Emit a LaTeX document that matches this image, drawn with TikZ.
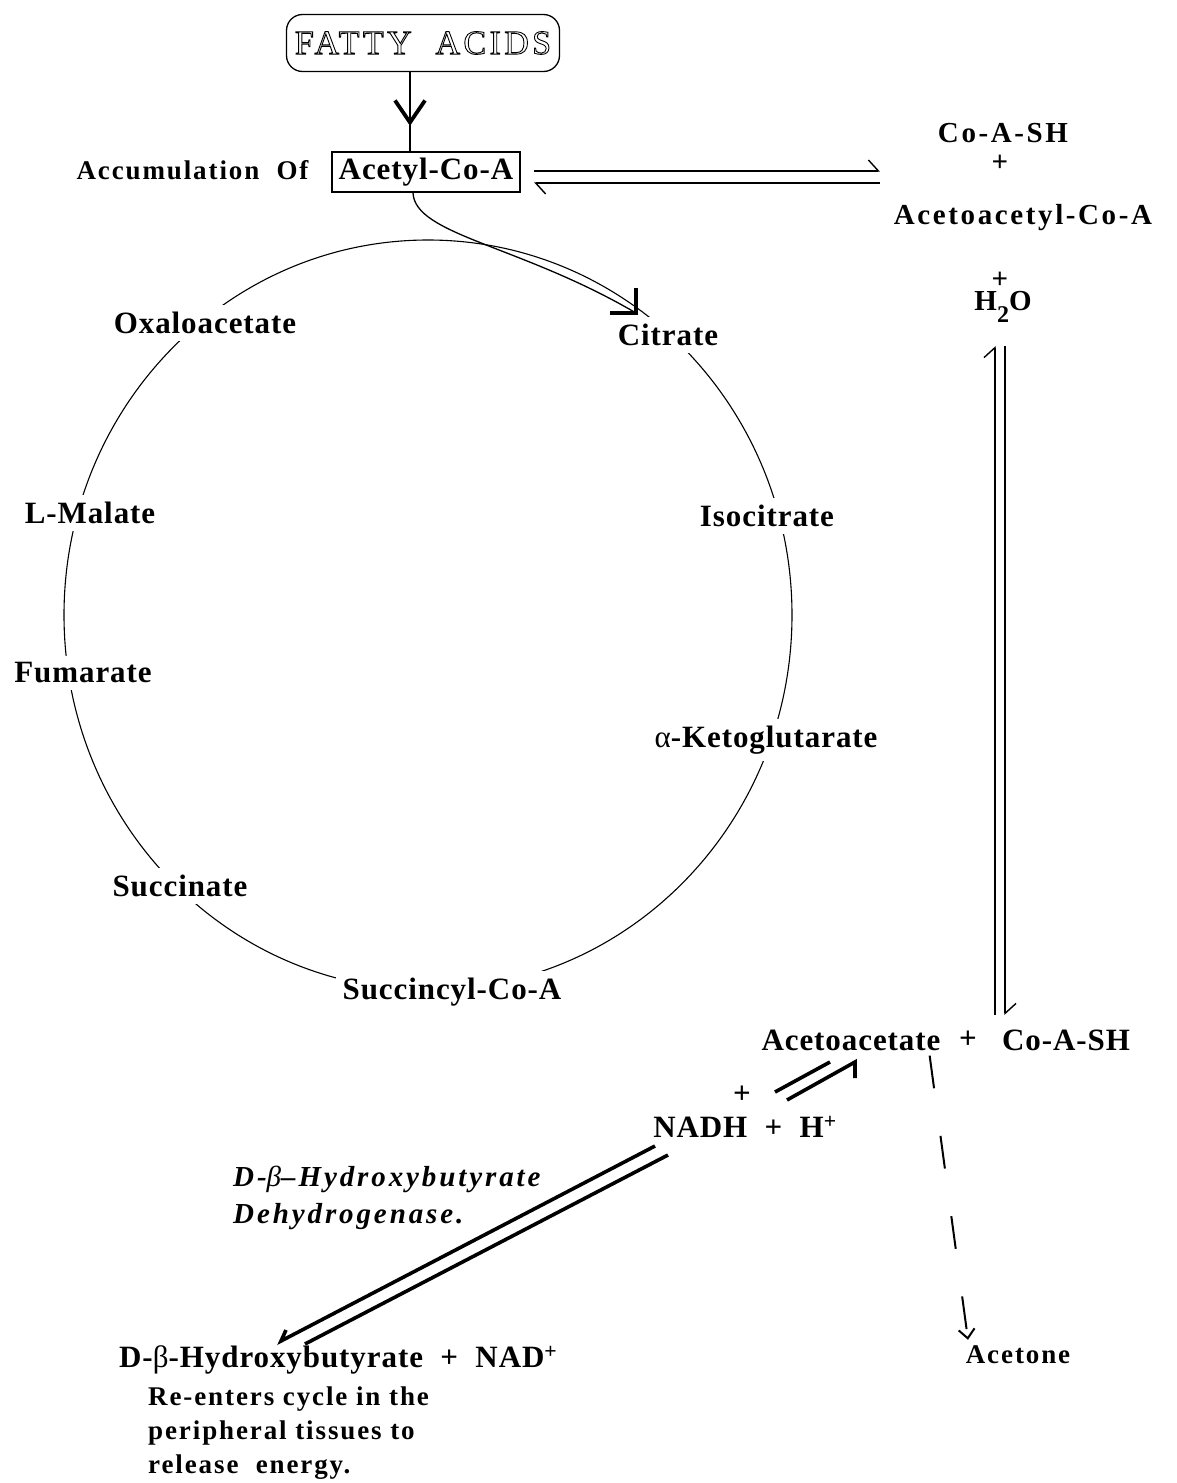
\documentclass[tikz,border=0pt]{standalone}
\usepackage{fontspec}
\setmainfont{Liberation Serif}
\usetikzlibrary{arrows.meta,decorations.markings}

\newcommand\cyclefont{\fontsize{31}{34}\selectfont\bfseries\addfontfeature{LetterSpace=3}}
\newcommand\sidefont{\fontsize{29}{34}\selectfont\bfseries\addfontfeature{LetterSpace=9}}
\newcommand\notefont{\fontsize{27}{34}\selectfont\bfseries\addfontfeature{LetterSpace=7}}
\newcommand\enzfont{\fontsize{29}{37}\selectfont\bfseries\itshape\addfontfeature{LetterSpace=10}}
\newcommand\outlined[1]{\special{pdf:literal direct 1 Tr 0.9 w}#1\special{pdf:literal direct 0 Tr}}

\tikzset{
  lbl/.style={font=\cyclefont, inner sep=1pt},
  onring/.style={lbl, fill=white, inner sep=7pt},
  side/.style={font=\sidefont, inner sep=0pt},
  note/.style={font=\notefont, inner sep=0pt},
  eqline/.style={line width=1.4pt},
  fatline/.style={line width=3.6pt},
  hbarb/.style={-{Straight Barb[harpoon,length=10pt,width=22pt]}},
}

\begin{document}
\begin{tikzpicture}[x=1pt,y=-1pt]
\useasboundingbox (0,0) rectangle (1177,1483);

% fatty acids -> acetyl-CoA
\node[draw, rounded corners=16pt, line width=1.3pt, minimum width=273pt, minimum height=57pt,
      font=\fontsize{34}{36}\selectfont\addfontfeature{LetterSpace=10}] (fatty) at (423,43) {\outlined{FATTY\ \ ACIDS}};
\node[draw, line width=1.6pt, lbl, inner xsep=7pt, inner ysep=6pt] (acetyl) at (426,172) {Acetyl-Co-A};
\node[font=\fontsize{27}{30}\selectfont\bfseries\addfontfeature{LetterSpace=7}, anchor=east] (accum) at (312,170) {Accumulation\ \ Of};
\coordinate (feed) at (410,0);
\draw[line width=1.3pt, postaction={decorate},
      decoration={markings, mark=at position 0.68 with {\arrow[line width=3.8pt]{Straight Barb[length=22pt,width=30pt]}}}]
  (fatty.south -| feed) -- (acetyl.north -| feed);

% thiolase equilibrium
\node[side] (coa1) at (1003,133) {Co-A-SH};
\node[side] (plus1) at (1000,163) {+};
\node[side] (acac) at (1023,218) {Acetoacetyl-Co-A};
\coordinate (eqR) at (880,171);
\draw[eqline, hbarb] ([xshift=13pt]acetyl.east |- eqR) -- (eqR);
\draw[eqline, hbarb] ([yshift=-12pt]eqR) -- ([shift={(13pt,-12pt)}]acetyl.east |- eqR);

% TCA cycle
\draw[line width=1.1pt] (428,615) ellipse [x radius=364, y radius=375];
\node[onring] (oxalo) at (205,323) {Oxaloacetate};
\node[onring] (citrate) at (668,335) {Citrate};
\node[onring] (malate) at (90,513) {L-Malate};
\node[onring] (isocit) at (767,516) {Isocitrate};
\node[onring] (fumar) at (83,673) {Fumarate};
\node[onring] (akg) at (766,740) {{\mdseries α}-Ketoglutarate};
\node[onring] (succ) at (180,886) {Succinate};
\node[onring] (succoa) at (452,992) {Succincyl-Co-A};
\coordinate (entry) at (636,313);
\draw[line width=1.3pt] (acetyl.south -| feed) ++(3,0) .. controls (415,235) and (520,245) .. (entry);
\draw[line width=3.5pt] (entry) ++(0,-25) -- (entry) -- ++(-26,0);

% water, acetoacetate
\node[side] (plus2) at (1000,280) {+};
\node[side] (water) at (1003,307) {H\raisebox{-12pt}{\fontsize{24}{24}\selectfont 2}O};
\coordinate (vtop) at (1000,346);
\coordinate (vbot) at (1000,1015);
\draw[eqline, hbarb] ([xshift=-5pt]vbot) -- ([xshift=-5pt]vtop);
\draw[eqline, hbarb] ([xshift=5pt]vtop) -- ([xshift=5pt]vbot);

\node[lbl] (acetoac) at (851,1040) {Acetoacetate};
\node[lbl] (plus3) at (968,1040) {+};
\node[lbl] (coa2) at (1066,1040) {Co-A-SH};

% reduction to D-beta-hydroxybutyrate
\node[lbl] (plus4) at (742,1095) {+};
\node[lbl] (nadh) at (745,1127) {NADH\ \ +\ \ H\textsuperscript{+}};
\draw[fatline] (775,1092) -- (830,1062);
\draw[fatline] (787,1100) -- (855,1062) -- (855,1078);
\draw[fatline] (655,1146) -- (281,1341) -- (286,1330);
\draw[fatline] (668,1155) -- (305,1344);
\node[font=\enzfont, align=left, anchor=north west, inner sep=0pt] (enzyme) at (233,1166)
  {D-{\mdseries β}–Hydroxybutyrate\\Dehydrogenase.};
\node[lbl, anchor=west] (dhb) at (118,1360) {D-{\mdseries β}-Hydroxybutyrate\ \ +\ \ NAD\textsuperscript{+}};
\node[note, align=left, anchor=north west] (reenter) at (148,1387)
  {Re-enters\ cycle\ in\ the\\peripheral\ tissues\ to\\release\ \ energy.};

% acetone
\node[note] (acetone) at (1018,1355) {Acetone};
\draw[line width=2pt, dash pattern=on 33pt off 48pt, -{Straight Barb[length=9pt,width=16pt]}]
  ([xshift=-12pt,yshift=-4pt]acetoac.south east) -- ([xshift=-50pt,yshift=6pt]acetone.north);
\end{tikzpicture}
\end{document}
